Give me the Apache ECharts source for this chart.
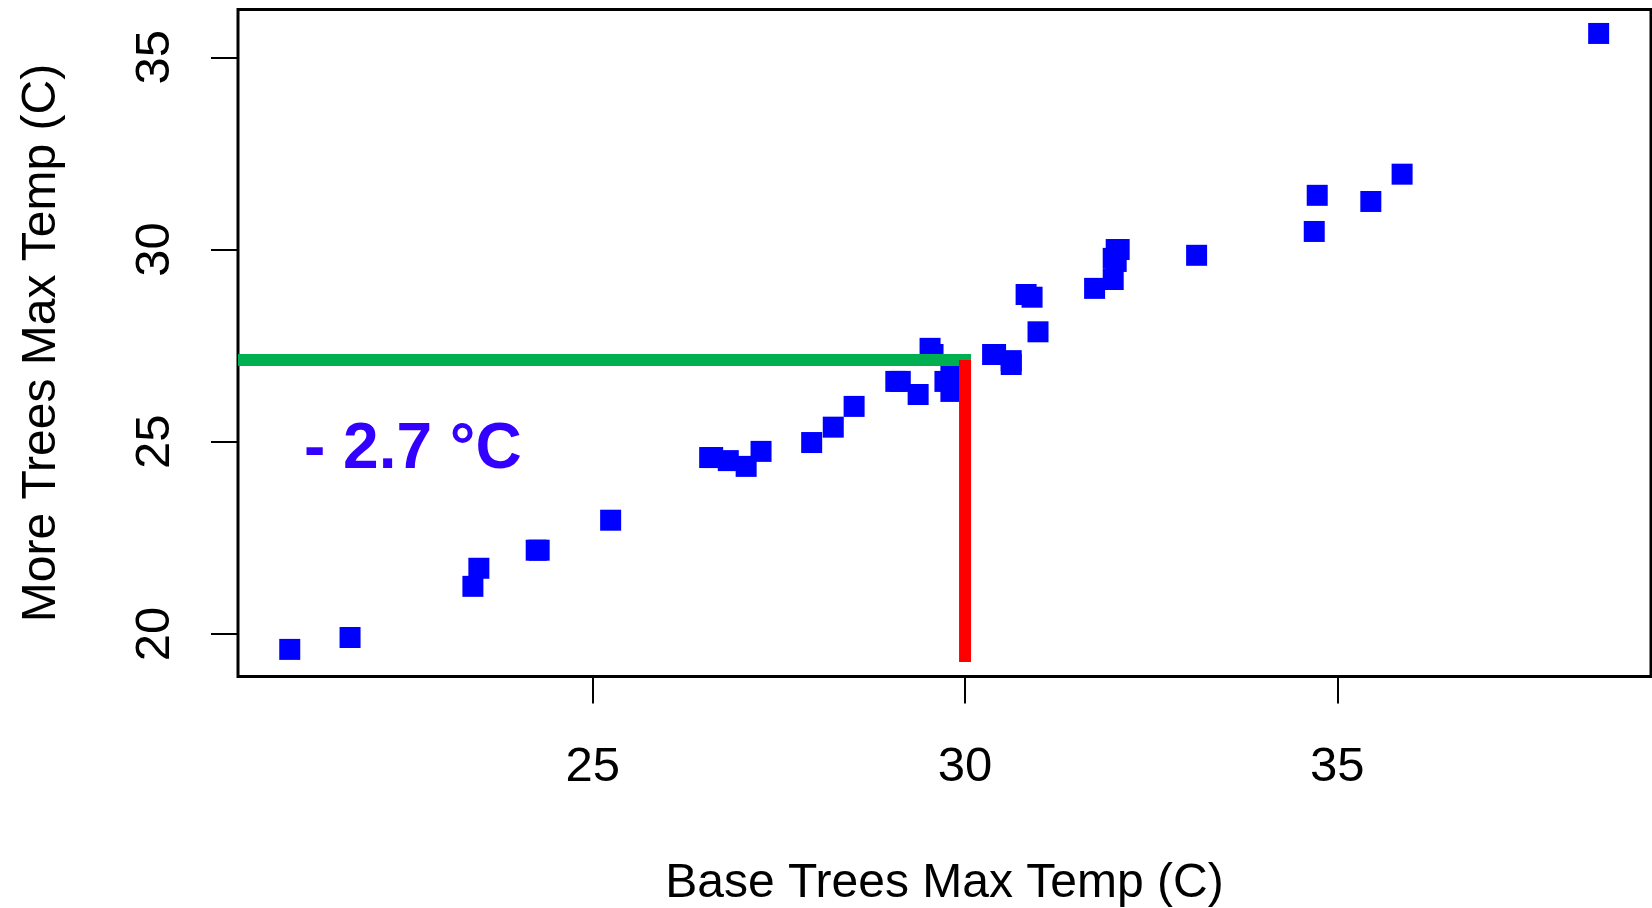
<!DOCTYPE html>
<html>
<head>
<meta charset="utf-8">
<script src="https://cdn.jsdelivr.net/npm/echarts@6/dist/echarts.min.js"></script>
<style>
  html, body { margin: 0; padding: 0; background: #ffffff; }
  #chart { width: 1652px; height: 908px; }
</style>
</head>
<body>
<div id="chart"></div>
<script>
// ---- data ----
const baseTreesMaxTemp = [
  20.93, 21.74, 23.39, 23.47, 24.24, 24.28, 25.24, 26.57, 26.61, 26.82,
  27.06, 27.26, 27.94, 28.23, 28.51, 29.07, 29.13, 29.37, 29.53, 29.57,
  29.73, 29.81, 29.81, 30.37, 30.41, 30.62, 30.62, 30.82, 30.90, 30.98,
  31.74, 31.99, 32.03, 31.99, 32.03, 32.07, 33.11, 34.69, 34.73, 35.45,
  35.87, 38.51
];
const moreTreesMaxTemp = [
  19.60, 19.91, 21.24, 21.71, 22.18, 22.18, 22.96, 24.59, 24.59, 24.51,
  24.36, 24.75, 24.98, 25.38, 25.92, 26.57, 26.57, 26.23, 27.43, 27.27,
  26.57, 26.70, 26.31, 27.27, 27.27, 27.11, 27.01, 28.83, 28.76, 27.86,
  28.99, 29.22, 29.69, 29.77, 30.00, 30.00, 29.85, 30.47, 31.41, 31.25,
  31.96, 35.62
];
const xTickValues = [25, 30, 35];
const yTickValues = [20, 25, 30, 35];
const xRange = [20.235, 39.213];
const yRange = [18.895, 36.243];
const referenceBaseTemp = 30;      // red vertical line x
const greenLineEnd = 30.08;        // green line right end (covers red line width)
const referenceMoreTemp = 27.13;   // green horizontal line y
const redLineBottom = 19.27;
const annotationText = '- 2.7 °C';
const xTitle = 'Base Trees Max Temp (C)';
const yTitle = 'More Trees Max Temp (C)';

// ---- build chart ----
const FONT = "'Liberation Sans', Arial, sans-serif";
const points = baseTreesMaxTemp.map((x, i) => [x, moreTreesMaxTemp[i]]);
const greenLine = [[xRange[0], referenceMoreTemp], [greenLineEnd, referenceMoreTemp]];
const redLine = [[referenceBaseTemp, redLineBottom], [referenceBaseTemp, referenceMoreTemp]];

const chart = echarts.init(document.getElementById('chart'), null, { renderer: 'canvas' });
chart.setOption({
  animation: false,
  backgroundColor: '#ffffff',
  grid: {
    left: 238, right: 1, top: 9.5, bottom: 231.5,
    containLabel: false, outerBoundsMode: 'none',
    show: true, borderColor: '#000000', borderWidth: 3, backgroundColor: 'transparent'
  },
  xAxis: {
    type: 'value', min: xRange[0], max: xRange[1],
    axisLine: { show: false },
    splitLine: { show: false },
    axisTick: { show: true, length: 27, customValues: xTickValues, lineStyle: { color: '#000', width: 2 } },
    axisLabel: { show: true, customValues: xTickValues, margin: 66, color: '#000', fontSize: 49, fontFamily: FONT },
    name: xTitle, nameLocation: 'middle', nameGap: 183,
    nameTextStyle: { color: '#000', fontSize: 48, fontFamily: FONT }
  },
  yAxis: {
    type: 'value', min: yRange[0], max: yRange[1],
    axisLine: { show: false },
    splitLine: { show: false },
    axisTick: { show: true, length: 27, customValues: yTickValues, lineStyle: { color: '#000', width: 2 } },
    axisLabel: { show: true, customValues: yTickValues, rotate: 90, margin: 58, color: '#000', fontSize: 49, fontFamily: FONT },
    name: yTitle, nameLocation: 'middle', nameRotate: 90, nameGap: 172,
    nameTextStyle: { color: '#000', fontSize: 48, fontFamily: FONT }
  },
  series: [
    {
      type: 'scatter', data: points, symbol: 'rect', symbolSize: 21,
      itemStyle: { color: '#0000ff', opacity: 1 }, z: 2, silent: true
    },
    {
      type: 'line', data: greenLine, symbol: 'none', z: 3, silent: true,
      lineStyle: { color: '#00b050', width: 12, cap: 'butt' }
    },
    {
      type: 'line', data: redLine, symbol: 'none', z: 4, silent: true,
      lineStyle: { color: '#ff0000', width: 12, cap: 'butt' }
    }
  ],
  graphic: [
    {
      type: 'text', left: 304, top: 418, z: 10,
      style: { text: annotationText, fill: '#3300ff', font: "bold 64px " + FONT }
    }
  ]
});
</script>
</body>
</html>
